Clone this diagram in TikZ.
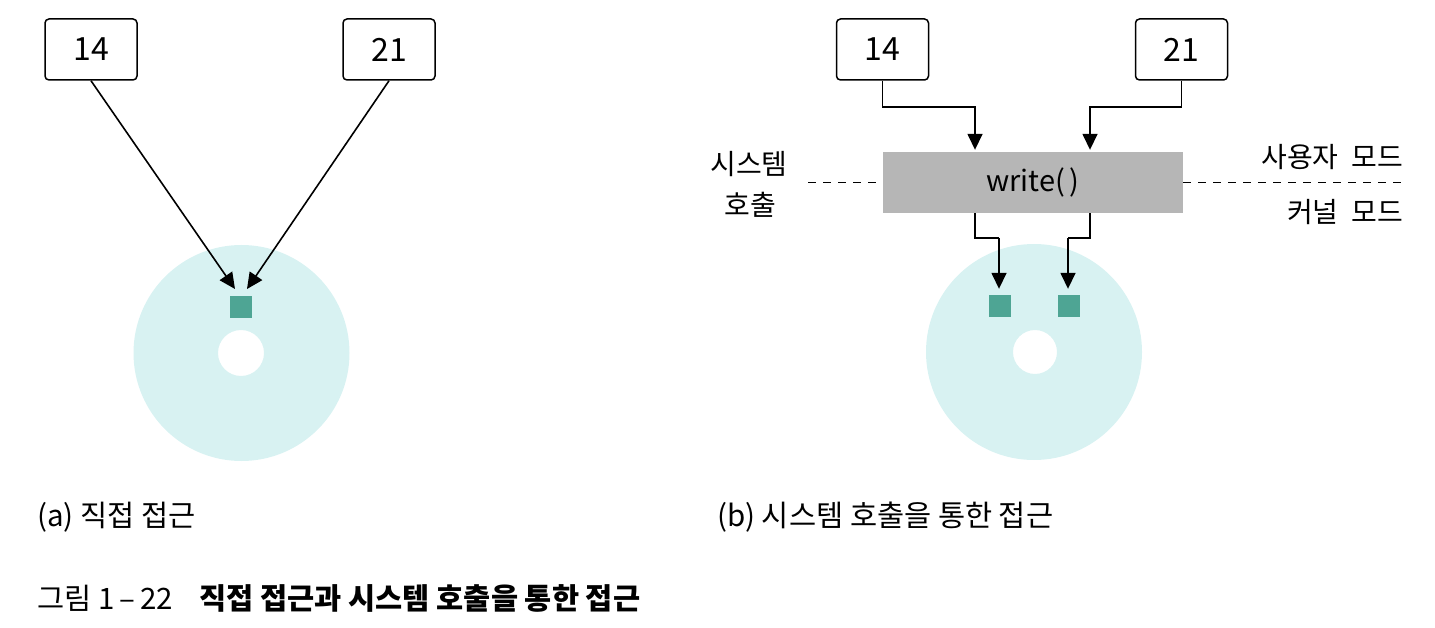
\documentclass[tikz,border=0pt]{standalone}
\usepackage{fontspec}
\setmainfont{Noto Sans CJK KR}
\usetikzlibrary{arrows.meta,calc}
\definecolor{diskc}{RGB}{216,242,242}
\definecolor{sqc}{RGB}{78,165,148}
\definecolor{wrc}{RGB}{182,182,182}
\tikzset{
  numbox/.style={draw=black,line width=1.5pt,rounded corners=4pt,minimum width=92pt,minimum height=61pt,inner sep=0pt,font=\fontsize{32}{36}\selectfont},
  sqnode/.style={fill=sqc,minimum size=22pt,inner sep=0pt},
  writebox/.style={fill=wrc,minimum width=300pt,minimum height=61pt,inner sep=0pt,font=\fontsize{29}{34}\selectfont},
  arr/.style={line width=1.6pt,-{Triangle[length=16pt,width=15pt]}},
  dashln/.style={line width=1.6pt,dash pattern=on 8pt off 7pt},
  lbl/.style={inner sep=0pt,font=\fontsize{28}{32}\selectfont},
  captxt/.style={inner sep=0pt,font=\fontsize{29.5}{34}\selectfont},
}
\begin{document}
\begin{tikzpicture}[x=1pt,y=-1pt]
\useasboundingbox (0,0) rectangle (1435,628);
% ---------- (a) ----------
\fill[diskc,even odd rule] (241.5,353) circle (108) (241,353) circle (23);
\node[numbox] (a14) at (91,49.5) {14};
\node[numbox] (a21) at (389,49.5) {21};
\node[sqnode] (asq) at (240.5,307) {};
\coordinate (atipL) at (235,289);
\coordinate (atipR) at (247,289);
\draw[arr] (a14.south) -- (atipL);
\draw[arr] (a21.south) -- (atipR);
% ---------- (b) ----------
\fill[diskc,even odd rule] (1034,352) circle (108) (1035,352) circle (22);
\node[numbox] (b14) at (882.5,49.5) {14};
\node[numbox] (b21) at (1181.5,49.5) {21};
\node[writebox] (wr) at (1033,182.5) {write(\,)};
\node[sqnode] (bsq1) at (1000,306) {};
\node[sqnode] (bsq2) at (1069,306) {};
\coordinate (k1) at (975,107);
\coordinate (k2) at (1090,107);
\coordinate (m1) at (999,238);
\coordinate (m2) at (1068,238);
\draw[arr,shorten >=2pt] (b14.south) |- (k1) -- (k1 |- wr.north);
\draw[arr,shorten >=2pt] (b21.south) |- (k2) -- (k2 |- wr.north);
\draw[line width=1.6pt] (wr.south -| k1) |- (m1);
\draw[arr,shorten >=6pt] (m1) -- (m1 |- bsq1.north);
\draw[line width=1.6pt] (wr.south -| k2) |- (m2);
\draw[arr,shorten >=6pt] (m2) -- (m2 |- bsq2.north);
\coordinate (dl) at (808,182.5);
\coordinate (dr) at (1407,182.5);
\draw[dashln] (dl) -- (wr.west);
\draw[dashln] (wr.east) -- (dr);
\node[lbl] (sys) at (749,164) {시스템};
\node[lbl] (call) at (750,205) {호출};
\node[lbl,anchor=east] (umode) at (1403,157) {사용자\hspace{0.45em}모드};
\node[lbl,anchor=east] (kmode) at (1403,212) {커널\hspace{0.45em}모드};
% ---------- captions ----------
\node[captxt,anchor=west] (capA) at (37,517) {(a) 직접 접근};
\node[captxt,anchor=west] (capB) at (717,517) {(b) 시스템 호출을 통한 접근};
\node[captxt,anchor=west] (fig) at (37,598) {그림 1\,–\,22\hspace{0.9em}\textbf{직접 접근과 시스템 호출을 통한 접근}};
\end{tikzpicture}
\end{document}
